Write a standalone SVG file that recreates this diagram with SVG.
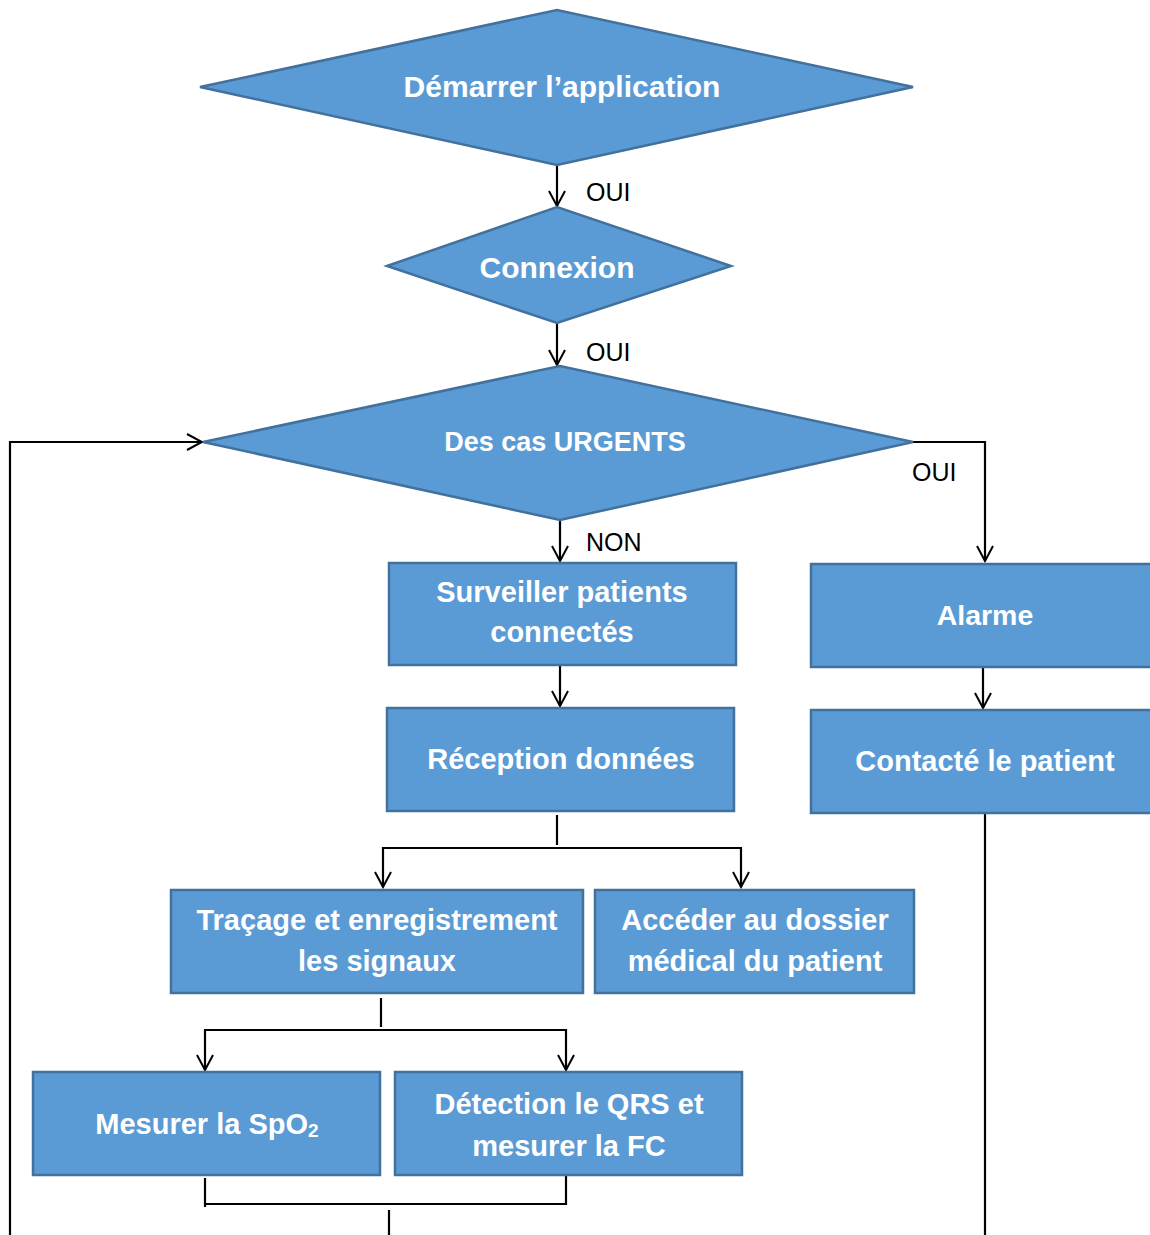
<svg xmlns="http://www.w3.org/2000/svg" width="1150" height="1235" viewBox="0 0 1150 1235">
<defs>
<style>
.shape{fill:#5B9BD5;stroke:#41719C;stroke-width:2.5}
.t{font-family:"Liberation Sans",Arial,sans-serif;font-weight:bold;fill:#fff;text-anchor:middle}
.lbl{font-family:"Liberation Sans",Arial,sans-serif;font-size:25px;fill:#000}
.c{fill:none;stroke:#000;stroke-width:2.2}
</style>
<marker id="arr" viewBox="-16 -10 18 20" refX="0" refY="0" markerWidth="18" markerHeight="20" markerUnits="userSpaceOnUse" orient="auto">
<path d="M-15,-8 L0,0 L-15,8" fill="none" stroke="#000" stroke-width="2"/>
</marker>
</defs>
<rect width="1150" height="1235" fill="#fff"/>

<g id="connectors">
<path class="c" d="M557,165 V206" marker-end="url(#arr)"/>
<path class="c" d="M557,323 V365" marker-end="url(#arr)"/>
<path class="c" d="M560,520 V561" marker-end="url(#arr)"/>
<path class="c" d="M913,442 H985 V561" marker-end="url(#arr)"/>
<path class="c" d="M10,1235 V442 H202" marker-end="url(#arr)"/>
<path class="c" d="M560,665 V706" marker-end="url(#arr)"/>
<path class="c" d="M983,667 V708" marker-end="url(#arr)"/>
<path class="c" d="M985,811 V1235"/>
<path class="c" d="M557,815 V845"/>
<path class="c" d="M562,848 H383 V887" marker-end="url(#arr)"/>
<path class="c" d="M557,848 H741 V887" marker-end="url(#arr)"/>
<path class="c" d="M381,998 V1027"/>
<path class="c" d="M385,1030 H205 V1070" marker-end="url(#arr)"/>
<path class="c" d="M380,1030 H566 V1070" marker-end="url(#arr)"/>
<path class="c" d="M205,1178 V1207 M205,1204 H566 V1176"/>
<path class="c" d="M389,1210 V1235"/>
</g>

<g id="labels">
<text class="lbl" x="586" y="201">OUI</text>
<text class="lbl" x="586" y="361">OUI</text>
<text class="lbl" x="912" y="481">OUI</text>
<text class="lbl" x="586" y="551">NON</text>
</g>

<g id="n-demarrer">
<polygon class="shape" points="200,87 557,10 913,87 557,165"/>
<text class="t" x="562" y="97" font-size="30">Démarrer l’application</text>
</g>
<g id="n-connexion">
<polygon class="shape" points="387,266 557,207 731,266 557,323"/>
<text class="t" x="557" y="278" font-size="30">Connexion</text>
</g>
<g id="n-urgents">
<polygon class="shape" points="203,442 560,366 913,442 560,520"/>
<text class="t" x="565" y="451" font-size="27">Des cas URGENTS</text>
</g>
<g id="n-surveiller">
<rect class="shape" x="389" y="563" width="347" height="102"/>
<text class="t" x="562" y="602" font-size="29">Surveiller patients</text>
<text class="t" x="562" y="642" font-size="29">connectés</text>
</g>
<g id="n-reception">
<rect class="shape" x="387" y="708" width="347" height="103"/>
<text class="t" x="561" y="769" font-size="29">Réception données</text>
</g>
<g id="n-alarme">
<rect class="shape" x="811" y="564" width="345" height="103"/>
<text class="t" x="985" y="625" font-size="28.5">Alarme</text>
</g>
<g id="n-contacte">
<rect class="shape" x="811" y="710" width="345" height="103"/>
<text class="t" x="985" y="771" font-size="29">Contacté le patient</text>
</g>
<g id="n-tracage">
<rect class="shape" x="171" y="890" width="412" height="103"/>
<text class="t" x="377" y="930" font-size="29">Traçage et enregistrement</text>
<text class="t" x="377" y="971" font-size="29">les signaux</text>
</g>
<g id="n-acceder">
<rect class="shape" x="595" y="890" width="319" height="103"/>
<text class="t" x="755" y="930" font-size="29">Accéder au dossier</text>
<text class="t" x="755" y="971" font-size="29">médical du patient</text>
</g>
<g id="n-spo2">
<rect class="shape" x="33" y="1072" width="347" height="103"/>
<text class="t" x="207" y="1134" font-size="29">Mesurer la SpO<tspan font-size="19" dy="3">2</tspan></text>
</g>
<g id="n-qrs">
<rect class="shape" x="395" y="1072" width="347" height="103"/>
<text class="t" x="569" y="1114" font-size="29">Détection le QRS et</text>
<text class="t" x="569" y="1156" font-size="29">mesurer la FC</text>
</g>
</svg>
